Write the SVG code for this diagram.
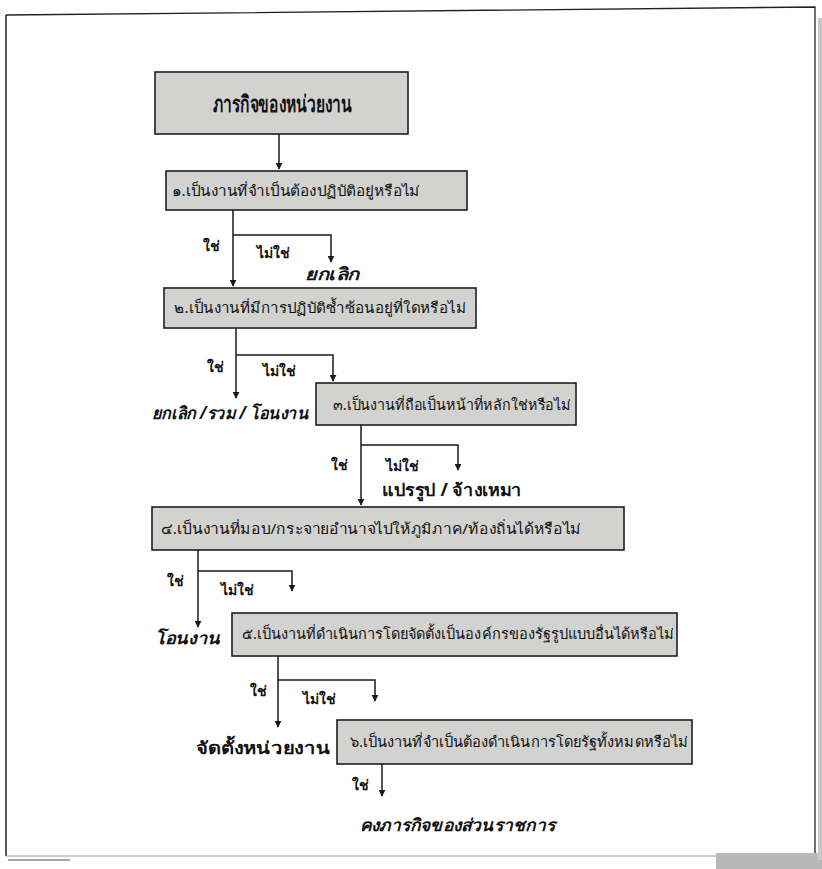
<svg xmlns="http://www.w3.org/2000/svg" width="822" height="869" viewBox="0 0 822 869">
<style>
.box{fill:#d2d2d0;stroke:#1e1e1e;stroke-width:1.6}
.q{font-family:"Noto Sans","Liberation Sans",sans-serif;font-size:14.5px;fill:#111}
.lab{font-family:"Noto Sans","Liberation Sans",sans-serif;font-size:14px;font-weight:bold;fill:#111}
.out{font-family:"Noto Sans","Liberation Sans",sans-serif;font-size:17px;font-weight:bold;font-style:italic;fill:#111}
.up{font-style:normal}
.ln{fill:none;stroke:#1a1a1a;stroke-width:1.5}
</style>
<defs>
<marker id="ah" viewBox="0 0 10 10" refX="9" refY="5" markerWidth="7" markerHeight="7" markerUnits="userSpaceOnUse" orient="auto">
<path d="M0,0 L10,5 L0,10 z" fill="#1a1a1a"/>
</marker>
</defs>
<rect width="822" height="869" fill="#ffffff"/>
<g id="frame">
<path d="M6,15 L815,7 L815,856" fill="none" stroke="#222" stroke-width="1.3"/>
<path d="M6,15 L6,856" fill="none" stroke="#222" stroke-width="1.5"/>
<path d="M6,856 L716,856" fill="none" stroke="#9a9a9a" stroke-width="1.2"/>
<path d="M8,860 L70,860" fill="none" stroke="#555" stroke-width="1.2"/>
<rect x="716" y="853" width="106" height="16" fill="#b8b8b8"/>
<rect x="818" y="18" width="4" height="842" fill="#c8c8c8"/>
</g>
<g id="connectors">
<path class="ln" d="M279,134 V169" marker-end="url(#ah)"/>
<path class="ln" d="M233,210 V286" marker-end="url(#ah)"/>
<path class="ln" d="M233,235 H331 V262" marker-end="url(#ah)"/>
<path class="ln" d="M236,328 V398" marker-end="url(#ah)"/>
<path class="ln" d="M236,355 H333 V381" marker-end="url(#ah)"/>
<path class="ln" d="M361,425 V505" marker-end="url(#ah)"/>
<path class="ln" d="M361,445 H458 V470" marker-end="url(#ah)"/>
<path class="ln" d="M198,550 V627" marker-end="url(#ah)"/>
<path class="ln" d="M198,571 H292 V591" marker-end="url(#ah)"/>
<path class="ln" d="M278,656 V727" marker-end="url(#ah)"/>
<path class="ln" d="M278,680 H375 V701" marker-end="url(#ah)"/>
<path class="ln" d="M382,764 V796" marker-end="url(#ah)"/>
</g>
<g id="title">
<rect class="box" x="155" y="72" width="253" height="62"/>
<text x="213" y="112" textLength="139" lengthAdjust="spacingAndGlyphs" font-family="Noto Sans, Liberation Sans, sans-serif" font-size="23" font-weight="bold" fill="#111">ภารกิจของหน่วยงาน</text>
</g>
<g id="q1">
<rect class="box" x="166" y="171" width="301" height="39"/>
<text class="q" x="172" y="196" textLength="248" lengthAdjust="spacingAndGlyphs">๑.เป็นงานที่จำเป็นต้องปฏิบัติอยู่หรือไม่</text>
</g>
<g id="q1-labels">
<text class="lab" x="203" y="251">ใช่</text>
<text class="lab" x="257" y="258">ไม่ใช่</text>
<text class="out" x="305" y="280" textLength="54" lengthAdjust="spacingAndGlyphs">ยกเลิก</text>
</g>
<g id="q2">
<rect class="box" x="164" y="288" width="312" height="40"/>
<text class="q" x="174" y="313" textLength="292" lengthAdjust="spacingAndGlyphs">๒.เป็นงานที่มีการปฏิบัติซ้ำซ้อนอยู่ที่ใดหรือไม่</text>
</g>
<g id="q2-labels">
<text class="lab" x="207" y="372">ใช่</text>
<text class="lab" x="263" y="376">ไม่ใช่</text>
<text class="out" x="152" y="419" textLength="156" lengthAdjust="spacingAndGlyphs">ยกเลิก /รวม / โอนงาน</text>
</g>
<g id="q3">
<rect class="box" x="316" y="383" width="260" height="42"/>
<text class="q" x="333" y="410" textLength="238" lengthAdjust="spacingAndGlyphs">๓.เป็นงานที่ถือเป็นหน้าที่หลักใช่หรือไม่</text>
</g>
<g id="q3-labels">
<text class="lab" x="331" y="470">ใช่</text>
<text class="lab" x="386" y="471">ไม่ใช่</text>
<text class="out up" x="382" y="496" textLength="140" lengthAdjust="spacingAndGlyphs">แปรรูป / จ้างเหมา</text>
</g>
<g id="q4">
<rect class="box" x="152" y="507" width="472" height="43"/>
<text class="q" x="161" y="534" textLength="420" lengthAdjust="spacingAndGlyphs">๔.เป็นงานที่มอบ/กระจายอำนาจไปให้ภูมิภาค/ท้องถิ่นได้หรือไม่</text>
</g>
<g id="q4-labels">
<text class="lab" x="167" y="586">ใช่</text>
<text class="lab" x="221" y="595">ไม่ใช่</text>
<text class="out" x="155" y="644" textLength="65" lengthAdjust="spacingAndGlyphs">โอนงาน</text>
</g>
<g id="q5">
<rect class="box" x="232" y="613" width="445" height="43"/>
<text class="q" x="242" y="639" textLength="432" lengthAdjust="spacingAndGlyphs">๕.เป็นงานที่ดำเนินการโดยจัดตั้งเป็นองค์กรของรัฐรูปแบบอื่นได้หรือไม่</text>
</g>
<g id="q5-labels">
<text class="lab" x="250" y="696">ใช่</text>
<text class="lab" x="303" y="704">ไม่ใช่</text>
<text class="out up" x="196" y="754" textLength="134" lengthAdjust="spacingAndGlyphs">จัดตั้งหน่วยงาน</text>
</g>
<g id="q6">
<rect class="box" x="337" y="720" width="355" height="44"/>
<text class="q" x="350" y="747" textLength="338" lengthAdjust="spacingAndGlyphs">๖.เป็นงานที่จำเป็นต้องดำเนินการโดยรัฐทั้งหมดหรือไม่</text>
</g>
<g id="q6-labels">
<text class="lab" x="352" y="790">ใช่</text>
<text class="out" x="360" y="831" textLength="195" lengthAdjust="spacingAndGlyphs">คงภารกิจของส่วนราชการ</text>
</g>
</svg>
